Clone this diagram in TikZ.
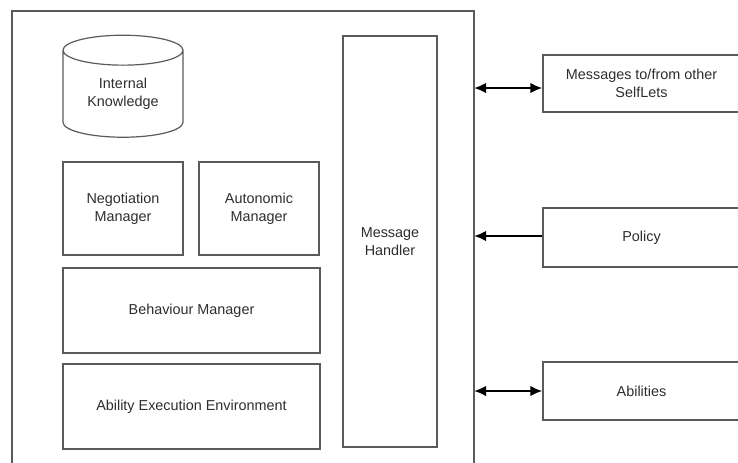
\documentclass[tikz,border=0pt]{standalone}
\usepackage{fontspec}
\setmainfont{Liberation Sans}
\usetikzlibrary{shapes.geometric,arrows.meta}

\tikzset{every picture/.style={line width=0.75pt}}
\definecolor{boxline}{RGB}{90,90,90}
\definecolor{boxtext}{RGB}{45,45,45}
\tikzset{
  block/.style={draw=boxline, line width=0.9pt, align=center, text=boxtext, inner sep=0pt,
    font=\fontsize{10.8}{13.5}\selectfont},
  link/.style={line width=2.2pt, black},
  hd/.tip={Latex[length=9pt,width=8pt]}
}

\begin{document}
\begin{tikzpicture}[x=0.75pt,y=0.75pt,yscale=-1,xscale=1]
\useasboundingbox (0,0) rectangle (738,462);

%Shape: open frame of the SelfLet
\draw [draw=boxline, line width=0.9pt] (12,470) -- (12,11) -- (474,11) -- (474,470) ;
\coordinate (pmsg) at (474,88);
\coordinate (ppol) at (474,236);
\coordinate (pabl) at (474,391);

%Shape: Can [id:knowledge]
\node [block, cylinder, shape border rotate=90, aspect=0.42, minimum width=90pt, minimum height=76.5pt] (know) at (123,94) {Internal\\Knowledge};

%Shape: Rectangle
\node [block, minimum width=90pt, minimum height=69.75pt] (nego) at (123,208.5) {Negotiation\\Manager};
\node [block, minimum width=90pt, minimum height=69.75pt] (auto) at (259,208.5) {Autonomic\\Manager};
\node [block, minimum width=192.75pt, minimum height=63.75pt] (behav) at (191.5,310.5) {Behaviour Manager};
\node [block, minimum width=192.75pt, minimum height=63.75pt] (abenv) at (191.5,406.5) {Ability Execution Environment};
\node [block, minimum width=70.5pt, minimum height=308.25pt] (mhand) at (390,241.5) {Message\\Handler};

%Shape: Rectangle (outside)
\node [block, minimum width=147.75pt, minimum height=42.75pt] (msgs) at (641.5,83.5) {Messages to/from other\\SelfLets};
\node [block, minimum width=147.75pt, minimum height=44.25pt] (pol) at (641.5,237.5) {Policy};
\node [block, minimum width=147.75pt, minimum height=43.5pt] (abl) at (641.5,391) {Abilities};

%Straight Lines
\draw [link, hd-hd] (pmsg) -- (pmsg -| msgs.west) ;
\draw [link, -hd] (ppol -| pol.west) -- (ppol) ;
\draw [link, hd-hd] (pabl) -- (pabl -| abl.west) ;

\end{tikzpicture}
\end{document}
